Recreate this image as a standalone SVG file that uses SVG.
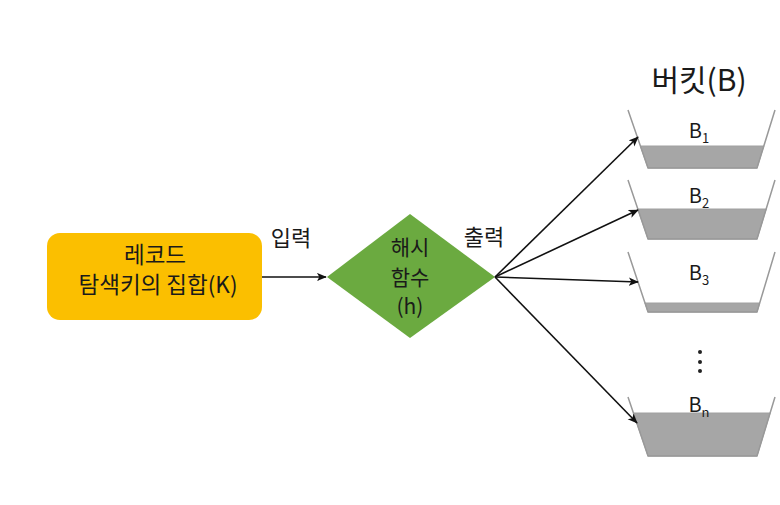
<svg xmlns="http://www.w3.org/2000/svg" width="780" height="505" viewBox="0 0 780 505">
<style>
.t{font-family:"Noto Sans CJK KR","Noto Sans",sans-serif;fill:#1a1a1a}
.bk{fill:none;stroke:#999;stroke-width:1.5}
.fl{fill:#A6A6A6;stroke:#A0A0A0;stroke-width:1}
.cn{stroke:#111;stroke-width:1.6;fill:none}
</style>
<defs>
<marker id="ah" viewBox="0 0 12 10" refX="11" refY="5" markerWidth="10" markerHeight="9" markerUnits="userSpaceOnUse" orient="auto">
<path d="M0,0 L12,5 L0,10 L3,5 Z" fill="#111"/>
</marker>
</defs>
<rect width="780" height="505" fill="#fff"/>
<g id="records">
<rect x="47" y="233" width="215" height="87" rx="13" fill="#FBBF00"/>
<text class="t" x="155" y="263" font-size="22.5" text-anchor="middle">레코드</text>
<text class="t" x="158" y="293" font-size="22.5" text-anchor="middle">탐색키의 집합(K)</text>
</g>
<g id="hash">
<polygon points="327,277 410,214 495,277 410,338" fill="#6BAA40"/>
<text class="t" x="410" y="255" font-size="21" text-anchor="middle">해시</text>
<text class="t" x="410" y="285" font-size="21" text-anchor="middle">함수</text>
<text class="t" x="410" y="314" font-size="21" text-anchor="middle">(h)</text>
</g>
<g id="title">
<text class="t" x="699" y="91" font-size="30" text-anchor="middle">버킷(B)</text>
</g>
<g id="b1">
<polygon class="fl" points="640.4,146 763.8,146 757,168 648,168"/>
<polyline class="bk" points="628,110 648,168 757,168 775,110"/>
<text class="t" x="699" y="138" font-size="20" text-anchor="middle">B<tspan font-size="13" dy="5">1</tspan></text>
</g>
<g id="b2">
<polygon class="fl" points="637.8,209 766.2,209 757,239 648,239"/>
<polyline class="bk" points="628,180 648,239 757,239 775,180"/>
<text class="t" x="699" y="203" font-size="20" text-anchor="middle">B<tspan font-size="13" dy="5">2</tspan></text>
</g>
<g id="b3">
<polygon class="fl" points="645,303 759.7,303 757,312 648,312"/>
<polyline class="bk" points="628,252 648,312 757,312 775,252"/>
<text class="t" x="699" y="280" font-size="20" text-anchor="middle">B<tspan font-size="13" dy="5">3</tspan></text>
</g>
<g id="dots" fill="#222">
<circle cx="700" cy="352" r="2"/>
<circle cx="700" cy="362" r="2"/>
<circle cx="700" cy="371" r="2"/>
</g>
<g id="bn">
<polygon class="fl" points="633.4,413 770.1,413 757,456 648,456"/>
<polyline class="bk" points="628,397 648,456 757,456 775,397"/>
<text class="t" x="699" y="412" font-size="20" text-anchor="middle">B<tspan font-size="13" dy="5">n</tspan></text>
</g>
<g id="connectors">
<line class="cn" x1="262" y1="277" x2="326" y2="277" marker-end="url(#ah)"/>
<line class="cn" x1="495" y1="277" x2="638" y2="137" marker-end="url(#ah)"/>
<line class="cn" x1="495" y1="277" x2="638" y2="210" marker-end="url(#ah)"/>
<line class="cn" x1="495" y1="277" x2="638" y2="282" marker-end="url(#ah)"/>
<line class="cn" x1="495" y1="277" x2="637" y2="423" marker-end="url(#ah)"/>
<text class="t" x="291" y="246" font-size="22" text-anchor="middle">입력</text>
<text class="t" x="484" y="245" font-size="22" text-anchor="middle">출력</text>
</g>
</svg>
